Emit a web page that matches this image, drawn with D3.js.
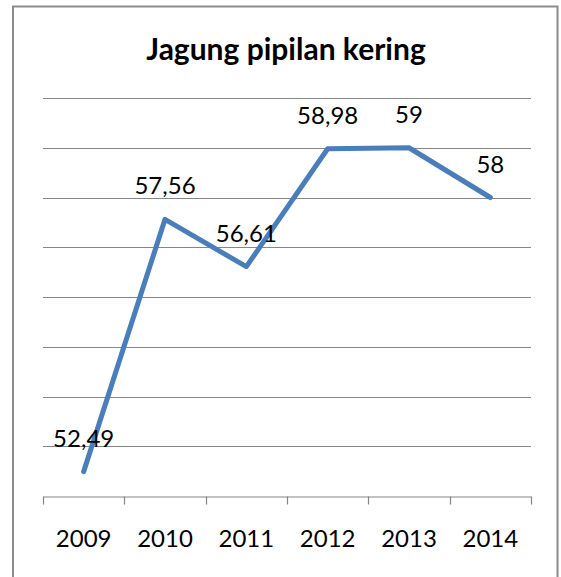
<!DOCTYPE html>
<html><head><meta charset="utf-8">
<script src="https://cdn.jsdelivr.net/npm/d3@7"></script>
<style>body{margin:0;background:#fff}svg{display:block}</style>
</head><body>
<script>
const title = "Jagung pipilan kering";
const years = ["2009","2010","2011","2012","2013","2014"];
const values = [52.49, 57.56, 56.61, 58.98, 59, 58];
const valueLabels = ["52,49","57,56","56,61","58,98","59","58"];
const gridTicks = [52,53,54,55,56,57,58,59,60];

const W = 561, H = 577;
const svg = d3.select("body").append("svg").attr("width", W).attr("height", H);
const font = "Lato, 'Open Sans', sans-serif";

// frame
svg.append("path").attr("d", "M13,577 V6.5 H557.5 V577")
  .attr("fill","none").attr("stroke","#8c8c8c").attr("stroke-width",2);

const x = d3.scaleBand().domain(years).range([43, 531]);
const y = d3.scaleLinear().domain([52, 60]).range([496, 98]);

// gridlines
svg.append("g").selectAll("line").data(gridTicks.filter(d => d > 52)).join("line")
  .attr("x1", 43).attr("x2", 531)
  .attr("y1", d => Math.round(y(d)) + 0.5).attr("y2", d => Math.round(y(d)) + 0.5)
  .attr("stroke", "#868686").attr("stroke-width", 1.2);

// x axis
const ax = svg.append("g").attr("transform", "translate(0," + (Math.round(y(52)) + 0.5) + ")")
  .call(d3.axisBottom(x).tickSize(0));
ax.select(".domain").attr("stroke", "#868686").attr("stroke-width", 1.2);
ax.selectAll("text").attr("y", 50).attr("dy", null)
  .attr("font-family", font).attr("font-size", 24).attr("fill", "#000");
// boundary ticks
const bounds = years.map(d => x(d)).concat([x(years[years.length-1]) + x.bandwidth()]);
ax.selectAll("line.bt").data(bounds).join("line").attr("class","bt")
  .attr("x1", d => Math.round(d) + 0.5).attr("x2", d => Math.round(d) + 0.5)
  .attr("y1", 0).attr("y2", 8).attr("stroke", "#868686").attr("stroke-width", 1.2);

// line
const cx = d => x(d) + x.bandwidth() / 2;
const line = d3.line().x((d, i) => cx(years[i])).y(d => y(d));
svg.append("path").datum(values).attr("d", line)
  .attr("fill", "none").attr("stroke", "#4a7ebb").attr("stroke-width", 5)
  .attr("stroke-linejoin", "round").attr("stroke-linecap", "round");

// data labels
svg.append("g").selectAll("text").data(values).join("text")
  .attr("x", (d, i) => cx(years[i]))
  .attr("y", d => y(d) - 25)
  .attr("text-anchor", "middle")
  .attr("font-family", font).attr("font-size", 24).attr("fill", "#000")
  .text((d, i) => valueLabels[i]);

// title
svg.append("text").attr("x", 286).attr("y", 60).attr("text-anchor", "middle")
  .attr("font-family", font).attr("font-weight", "bold").attr("font-size", 30)
  .attr("fill", "#000").text(title);
</script>
</body></html>
